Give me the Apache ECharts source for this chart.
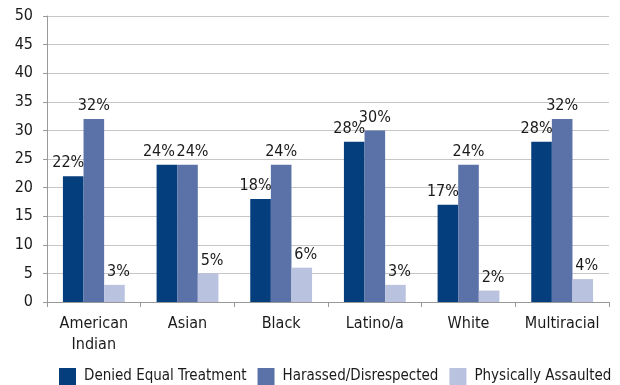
<!DOCTYPE html>
<html>
<head>
<meta charset="utf-8">
<script src="https://cdn.jsdelivr.net/npm/echarts@6/dist/echarts.min.js"></script>
<style>
    html, body {margin: 0; padding: 0; background: #fff;}
    #chart {width: 620px; height: 385px;}
</style>
</head>
<body>
<div id="chart"></div>
<script>
const categories = ['American\nIndian', 'Asian', 'Black', 'Latino/a', 'White', 'Multiracial'];
const deniedEqualTreatment = [22, 24, 18, 28, 17, 28];
const harassedDisrespected = [32, 24, 24, 30, 24, 32];
const physicallyAssaulted = [3, 5, 6, 3, 2, 4];
const yTicks = {min: 0, max: 50, interval: 5};

const font = '"Liberation Sans Narrow", "DejaVu Sans Condensed", "Roboto", sans-serif';

// excel nudges the outer labels sideways, and pushes apart labels that sit at the same height
const labelShift = (seriesIndex, dataIndex) => {
    const clash = Math.abs(deniedEqualTreatment[dataIndex] - harassedDisrespected[dataIndex]) < 2;
    if (seriesIndex === 0) return clash ? -8 : -5;
    if (seriesIndex === 1) return clash ? 5 : 0;
    return 4;
};

const barSeries = (name, data, color) => ({
    name: name,
    type: 'bar',
    data: data,
    barGap: '0%',
    barCategoryGap: '34%',
    itemStyle: {color: color},
    label: {
        show: true,
        position: 'top',
        distance: 5,
        formatter: p => p.value + '%',
        color: '#1a1a1a',
        fontFamily: font,
        fontSize: 16
    },
    labelLayout: params => ({dx: labelShift(params.seriesIndex, params.dataIndex)})
});

const chart = echarts.init(document.getElementById('chart'), null, {renderer: 'canvas'});
chart.setOption({
    animation: false,
    grid: {left: 47, right: 11, top: 16, bottom: 83, containLabel: false},
    legend: {
        bottom: 0,
        left: 59,
        padding: 0,
        width: 580,
        itemWidth: 17,
        itemHeight: 17,
        itemGap: 11,
        icon: 'rect',
        textStyle: {fontFamily: font, fontSize: 15, color: '#1a1a1a', padding: [0, 0, 0, 3]},
        data: ['Denied Equal Treatment', 'Harassed/Disrespected', 'Physically Assaulted']
    },
    xAxis: {
        type: 'category',
        data: categories,
        axisLine: {lineStyle: {color: '#999'}},
        axisTick: {show: true, length: 5, lineStyle: {color: '#999'}},
        axisLabel: {
            fontFamily: font,
            fontSize: 16,
            color: '#1a1a1a',
            margin: 11,
            lineHeight: 21,
            interval: 0
        }
    },
    yAxis: {
        type: 'value',
        min: yTicks.min,
        max: yTicks.max,
        interval: yTicks.interval,
        axisLine: {show: true, lineStyle: {color: '#999'}},
        axisTick: {show: true, length: 4, lineStyle: {color: '#999'}},
        splitLine: {lineStyle: {color: '#c6c6c6'}},
        axisLabel: {fontFamily: font, fontSize: 16, color: '#1a1a1a', margin: 14}
    },
    series: [
        barSeries('Denied Equal Treatment', deniedEqualTreatment, '#053e7c'),
        barSeries('Harassed/Disrespected', harassedDisrespected, '#5b72a8'),
        barSeries('Physically Assaulted', physicallyAssaulted, '#b9c2de')
    ]
});
</script>
</body>
</html>
